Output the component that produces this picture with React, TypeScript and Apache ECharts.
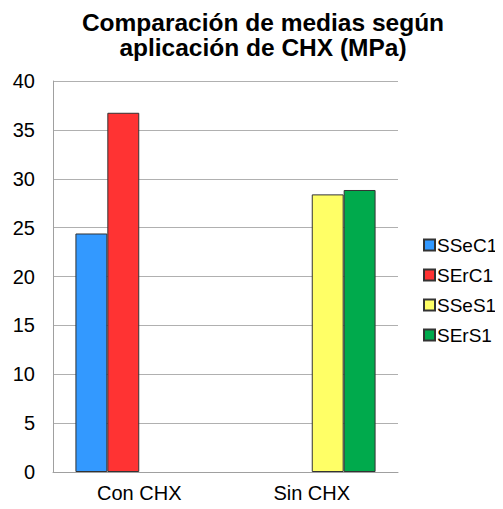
import React, { useEffect, useRef } from "react";
import * as echarts from "echarts";

const categories = ["Con CHX", "Sin CHX"];
const seriesNames = ["SSeC1", "SErC1", "SSeS1", "SErS1"];
const seriesColors = ["#3399ff", "#ff3333", "#ffff66", "#00aa4c"];
const SSeC1 = [24.4, null];
const SErC1 = [36.75, null];
const SSeS1 = [null, 28.4];
const SErS1 = [null, 28.85];
const yTicks = { min: 0, max: 40, interval: 5 };

export default function App() {
  const ref = useRef<HTMLDivElement>(null);
  useEffect(() => {
    if (!ref.current) return;
    const chart = echarts.init(ref.current, undefined, { renderer: "svg" });
    const values = [SSeC1, SErC1, SSeS1, SErS1];
    chart.setOption({
      animation: false,
      textStyle: { fontFamily: "Liberation Sans, Arial, sans-serif", color: "#000" },
      title: {
        text: "Comparación de medias según\naplicación de CHX (MPa)",
        left: 258,
        textAlign: "center",
        top: 5,
        textStyle: {
          fontFamily: "Liberation Sans, Arial, sans-serif",
          fontWeight: "bold",
          fontSize: 24.5,
          lineHeight: 25,
          color: "#000",
        },
      },
      legend: {
        orient: "vertical",
        left: 418,
        top: 230,
        itemWidth: 11,
        itemHeight: 11,
        itemGap: 10,
        icon: "rect",
        data: seriesNames,
        textStyle: { fontSize: 19, lineHeight: 20, color: "#000", padding: [0, 0, 0, -3] },
      },
      grid: { left: 53, right: 105, top: 81, bottom: 37, containLabel: false },
      xAxis: {
        type: "category",
        data: categories,
        axisLine: { show: true, lineStyle: { color: "#a0a0a0", width: 1 } },
        axisTick: { show: false },
        axisLabel: { fontSize: 20, color: "#000", margin: 11 },
      },
      yAxis: {
        type: "value",
        min: yTicks.min,
        max: yTicks.max,
        interval: yTicks.interval,
        axisLine: { show: true, lineStyle: { color: "#a0a0a0", width: 1 } },
        axisTick: { show: false },
        axisLabel: { fontSize: 20, color: "#000", margin: 18 },
        splitLine: { show: true, lineStyle: { color: "#b0b0b0", width: 1 } },
      },
      series: seriesNames.map((name, i) => ({
        name,
        type: "bar",
        data: values[i],
        barGap: "0%",
        barCategoryGap: "26%",
        itemStyle: { color: seriesColors[i], borderColor: "#333", borderWidth: 1 },
      })),
    });
    return () => chart.dispose();
  }, []);
  return <div ref={ref} style={{ width: 503, height: 509, margin: -8 }} />;
}
